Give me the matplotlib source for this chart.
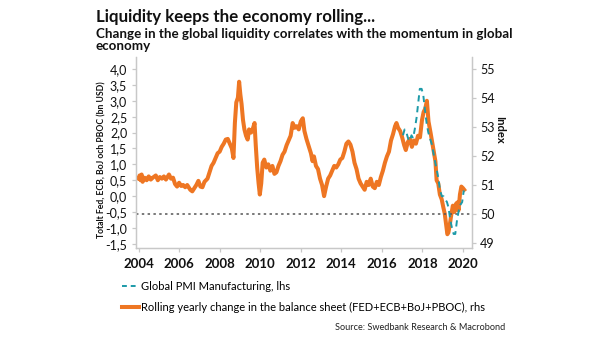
import matplotlib
matplotlib.use("Agg")
import matplotlib.pyplot as plt
from matplotlib.lines import Line2D
from matplotlib.ticker import FuncFormatter

# ---- data ----
liq_years = [2004.00, 2004.05, 2004.10, 2004.15, 2004.20, 2004.30, 2004.40, 2004.50, 2004.60, 2004.70,
             2004.85, 2004.95, 2005.05, 2005.15, 2005.25, 2005.35, 2005.50, 2005.60, 2005.70, 2005.80,
             2005.90, 2006.00, 2006.10, 2006.20, 2006.30, 2006.40, 2006.55, 2006.65, 2006.75, 2006.85,
             2006.95, 2007.05, 2007.15, 2007.25, 2007.40, 2007.50, 2007.60, 2007.70, 2007.80, 2007.90,
             2008.00, 2008.10, 2008.20, 2008.30, 2008.40, 2008.50, 2008.60, 2008.68, 2008.75, 2008.82,
             2008.90, 2008.96, 2009.02, 2009.08, 2009.15, 2009.22, 2009.30, 2009.38, 2009.45, 2009.55,
             2009.65, 2009.72, 2009.78, 2009.85, 2009.92, 2009.98, 2010.05, 2010.12, 2010.20, 2010.30,
             2010.40, 2010.50, 2010.60, 2010.70, 2010.80, 2010.90, 2011.00, 2011.10, 2011.20, 2011.30,
             2011.40, 2011.50, 2011.60, 2011.70, 2011.80, 2011.90, 2012.00, 2012.10, 2012.18, 2012.28,
             2012.40, 2012.50, 2012.58, 2012.65, 2012.75, 2012.85, 2012.95, 2013.05, 2013.15, 2013.25,
             2013.35, 2013.45, 2013.55, 2013.65, 2013.75, 2013.85, 2013.95, 2014.05, 2014.15, 2014.25,
             2014.35, 2014.45, 2014.55, 2014.65, 2014.75, 2014.85, 2014.95, 2015.05, 2015.15, 2015.25,
             2015.35, 2015.45, 2015.55, 2015.65, 2015.75, 2015.85, 2015.95, 2016.05, 2016.15, 2016.25,
             2016.35, 2016.45, 2016.55, 2016.65, 2016.72, 2016.80, 2016.90, 2017.00, 2017.10, 2017.18,
             2017.28, 2017.38, 2017.48, 2017.58, 2017.68, 2017.78, 2017.88, 2017.98, 2018.06, 2018.14,
             2018.22, 2018.30, 2018.40, 2018.48, 2018.56, 2018.64, 2018.70, 2018.78, 2018.86, 2018.95,
             2019.03, 2019.10, 2019.17, 2019.23, 2019.28, 2019.35, 2019.42, 2019.50, 2019.58, 2019.65,
             2019.72, 2019.78, 2019.85, 2019.92, 2020.00, 2020.06]
liq_values = [0.55, 0.65, 0.50, 0.68, 0.45, 0.58, 0.50, 0.62, 0.52, 0.58,
              0.65, 0.50, 0.60, 0.55, 0.62, 0.52, 0.68, 0.55, 0.58, 0.38,
              0.30, 0.42, 0.32, 0.35, 0.28, 0.35, 0.20, 0.15, 0.25, 0.35,
              0.48, 0.30, 0.28, 0.45, 0.55, 0.75, 0.95, 1.05, 1.20, 1.35,
              1.40, 1.55, 1.65, 1.78, 1.80, 1.65, 1.50, 1.20, 2.30, 2.95,
              3.10, 3.60, 3.20, 2.90, 2.40, 2.10, 1.90, 1.78, 2.10, 2.00,
              2.15, 2.30, 1.60, 0.90, 0.40, 0.05, 0.40, 1.05, 1.15, 0.90,
              1.00, 0.80, 0.95, 0.70, 0.75, 0.95, 1.10, 1.30, 1.40, 1.60,
              1.75, 1.90, 2.30, 2.15, 2.20, 2.10, 2.35, 2.45, 2.05, 1.80,
              1.55, 1.35, 1.10, 1.25, 0.95, 0.85, 0.55, 0.35, 0.00, 0.30,
              0.55, 0.65, 0.80, 0.95, 0.90, 1.00, 1.15, 1.20, 1.40, 1.65,
              1.72, 1.62, 1.40, 1.05, 0.85, 0.55, 0.40, 0.30, 0.20, 0.45,
              0.35, 0.55, 0.30, 0.25, 0.45, 0.35, 0.60, 0.80, 1.05, 1.25,
              1.40, 1.75, 1.95, 2.20, 2.30, 2.15, 2.05, 1.85, 1.60, 1.45,
              1.70, 1.80, 1.55, 1.75, 1.65, 1.90, 1.85, 2.40, 2.65, 2.75,
              3.00, 2.35, 2.00, 1.70, 1.40, 1.10, 0.50, 0.40, 0.05, -0.10,
              -0.35, -0.55, -0.90, -1.20, -1.15, -0.90, -0.60, -0.30, -0.50, -0.25,
              -0.20, -0.45, 0.05, 0.30, 0.25, 0.20]

pmi_years = [2017.04, 2017.12, 2017.21, 2017.29, 2017.37, 2017.46, 2017.54, 2017.62, 2017.71, 2017.79,
             2017.87, 2017.96, 2018.04, 2018.12, 2018.21, 2018.29, 2018.37, 2018.46, 2018.54, 2018.62,
             2018.71, 2018.79, 2018.87, 2018.96, 2019.04, 2019.12, 2019.21, 2019.29, 2019.37, 2019.46,
             2019.54, 2019.62, 2019.71, 2019.79, 2019.87, 2019.96, 2020.04]
pmi_values = [52.7, 52.9, 52.8, 52.6, 52.5, 52.7, 52.6, 52.9, 53.3, 53.8,
              54.3, 54.3, 54.1, 53.6, 53.1, 52.8, 52.6, 52.4, 52.1, 51.8,
              51.5, 51.2, 50.8, 50.6, 50.6, 50.5, 50.4, 50.2, 49.8, 49.5,
              49.3, 49.3, 49.8, 50.1, 50.3, 50.4, 50.8]

left_ticks = [-1.5, -1.0, -0.5, 0.0, 0.5, 1.0, 1.5, 2.0, 2.5, 3.0, 3.5, 4.0]
right_ticks = [49, 50, 51, 52, 53, 54, 55]
year_ticks = [2004, 2006, 2008, 2010, 2012, 2014, 2016, 2018, 2020]
pmi_ref = 50

title = "Liquidity keeps the economy rolling..."
subtitle = "Change in the global liquidity correlates with the momentum in global\neconomy"
left_label = "Totalt Fed, ECB, BoJ och PBOC (bn USD)"
right_label = "Index"
pmi_label = "Global PMI Manufacturing, lhs"
liq_label = "Rolling yearly change in the balance sheet (FED+ECB+BoJ+PBOC), rhs"
source = "Source: Swedbank Research & Macrobond"

# ---- style ----
ORANGE = "#EE7623"
TEAL = "#1C9AA8"
GRID = "#c8c8c8"
FONT = "Lato"
plt.rcParams['font.family'] = [FONT, 'DejaVu Sans']

fig = plt.figure(figsize=(6.05, 3.41), dpi=100)
ax = fig.add_axes([0.224, 0.273, 0.556, 0.560])
ax2 = ax.twinx()

ax.plot(liq_years, liq_values, color=ORANGE, lw=2.9, solid_joinstyle='round', zorder=3)
ax2.plot(pmi_years, pmi_values, color=TEAL, lw=1.4, dashes=(3.2, 2.4), zorder=4)
ax2.axhline(pmi_ref, color="#555555", lw=1.1, dashes=(1.6, 2.2), zorder=2)

ax.set_xlim(2003.85, 2020.44)
ax.set_ylim(-1.63, 4.38)
ax2.set_ylim(48.82, 55.40)

ax.set_xticks(year_ticks)
ax.set_yticks(left_ticks)
ax2.set_yticks(right_ticks)
ax.yaxis.set_major_formatter(FuncFormatter(lambda v, p: f"{v:.1f}".replace(".", ",").replace("-0,0", "0,0")))

for a in (ax, ax2):
    a.spines['top'].set_visible(False)
    for s in ('left', 'right', 'bottom'):
        a.spines[s].set_color(GRID)
        a.spines[s].set_linewidth(0.9)
    a.tick_params(axis='both', colors=GRID, length=3, width=0.9, labelcolor="#111111")

ax.tick_params(axis='x', labelsize=9.5, pad=4)
for lbl in ax.get_xticklabels():
    lbl.set_fontweight('bold')
ax.tick_params(axis='y', labelsize=9, pad=3)
ax2.tick_params(axis='y', labelsize=9, pad=3)

fig.text(101.7 / 605, 1 - 160 / 341, left_label, rotation=90, ha='center', va='center',
         fontsize=6.2, fontweight='bold', color="#111111")
fig.text(500 / 605, 1 - 130 / 341, right_label, rotation=270, ha='center', va='center',
         fontsize=8, fontweight='bold', color="#111111")

fig.text(96 / 605, 1 - 17 / 341, title, ha='left', va='center', fontsize=12.2,
         fontweight='bold', color="#111111")
fig.text(96 / 605, 1 - 28 / 341, subtitle, ha='left', va='top', fontsize=9.6,
         fontweight='bold', color="#111111", linespacing=1.0)

handles = [Line2D([0], [0], color=TEAL, lw=1.4, dashes=(2.5, 2.0)),
           Line2D([0], [0], color=ORANGE, lw=2.9)]
fig.legend(handles, [pmi_label, liq_label], loc='upper left',
           bbox_to_anchor=(122 / 605, 1 - 281 / 341), frameon=False, fontsize=8.0,
           handlelength=1.55, handletextpad=0.2, labelspacing=0.9, borderaxespad=0,
           borderpad=0)

fig.text(505 / 605, 1 - 327 / 341, source, ha='right', va='center', fontsize=6.6,
         color="#222222")

fig.savefig("out.png", dpi=100)
